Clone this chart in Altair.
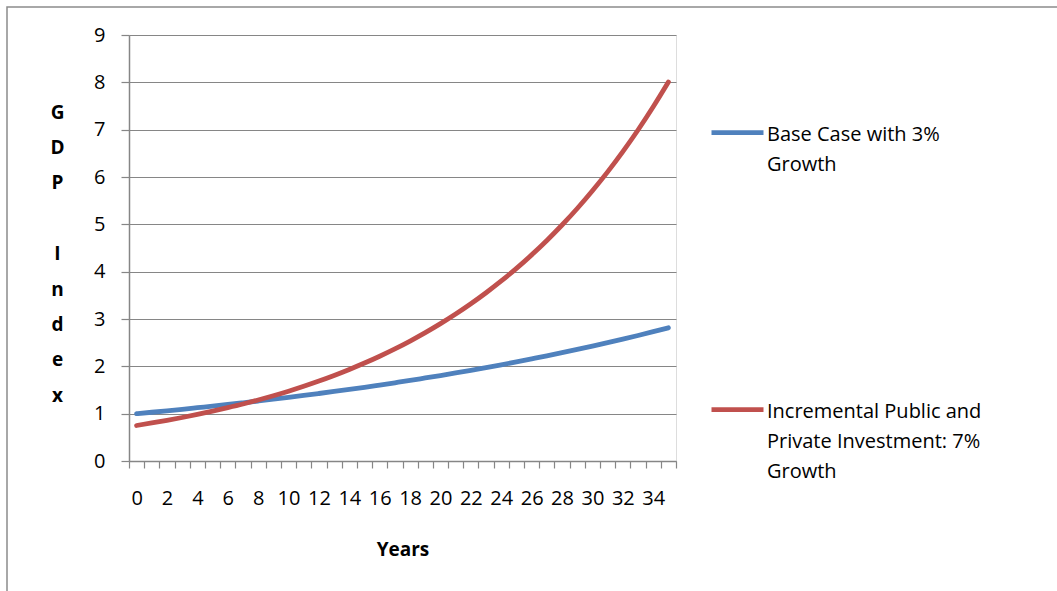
import altair as alt
import pandas as pd

years = list(range(36))
base_case = [1.000, 1.030, 1.061, 1.093, 1.126, 1.159, 1.194, 1.230, 1.267, 1.305,
             1.344, 1.384, 1.426, 1.469, 1.513, 1.558, 1.605, 1.653, 1.702, 1.754,
             1.806, 1.860, 1.916, 1.974, 2.033, 2.094, 2.157, 2.221, 2.288, 2.357,
             2.427, 2.500, 2.575, 2.652, 2.732, 2.814]
incremental = [0.750, 0.803, 0.859, 0.919, 0.983, 1.052, 1.126, 1.204, 1.289, 1.379,
               1.475, 1.579, 1.689, 1.807, 1.934, 2.069, 2.214, 2.369, 2.535, 2.712,
               2.902, 3.105, 3.322, 3.555, 3.804, 4.070, 4.355, 4.660, 4.986, 5.335,
               5.709, 6.108, 6.536, 6.993, 7.483, 8.006]
series_names = ["Base Case with 3% Growth",
                "Incremental Public and Private Investment: 7% Growth"]
series_colors = ["#4F81BD", "#C0504D"]
x_labels = list(range(0, 35, 2))
y_ticks = list(range(0, 10))

rows = []
for s, vals in zip(series_names, [base_case, incremental]):
    for yr, v in zip(years, vals):
        rows.append({"year": yr, "value": v, "series": s})
df = pd.DataFrame(rows)

tick_positions = [y - 0.5 for y in years] + [years[-1] + 0.5]

FONT = "Open Sans"
GRAY = "#868686"

xscale = alt.Scale(domain=[years[0] - 0.5, years[-1] + 0.5], nice=False, zero=False)
yscale = alt.Scale(domain=[0, 9], nice=False)

label_expr = ("datum.label == 'Base Case with 3% Growth' ? ['Base Case with 3%', 'Growth'] : "
              "['Incremental Public and', 'Private Investment: 7%', 'Growth']")

lines = alt.Chart(df).mark_line(strokeWidth=4.8, strokeCap="round", strokeJoin="round",
                                interpolate="monotone", clip=False).encode(
    x=alt.X("year:Q", scale=xscale,
            axis=alt.Axis(values=x_labels, tickSize=0, domain=False, grid=False,
                          labelPadding=27, labelFontSize=20, labelFont=FONT,
                          labelColor="#000000", labelFlush=False, orient="bottom",
                          title="Years", titleFont=FONT, titleFontSize=19,
                          titleFontWeight="bold", titleColor="#000000",
                          titleY=88, titleBaseline="middle")),
    y=alt.Y("value:Q", scale=yscale,
            axis=alt.Axis(values=y_ticks, tickSize=8, tickColor=GRAY, domainColor=GRAY,
                          domainWidth=1.5, tickWidth=1.2, grid=True, gridColor=GRAY,
                          gridWidth=1.2, labelPadding=16, labelFontSize=20, labelFont=FONT,
                          labelColor="#000000",
                          title=["G", "D", "P", "\u200b", "I", "n", "d", "e", "x"],
                          titleAngle=0, titleX=-72, titleY=77, titleAlign="center",
                          titleBaseline="middle", titleLineHeight=35.4,
                          titleFont=FONT, titleFontSize=19, titleFontWeight="bold",
                          titleColor="#000000")),
    color=alt.Color("series:N",
                    scale=alt.Scale(domain=series_names, range=series_colors),
                    legend=alt.Legend(orient="none", legendX=580, legendY=61,
                                      title=None, labelExpr=label_expr,
                                      labelFont=FONT, labelFontSize=20,
                                      labelColor="#000000", labelLimit=400,
                                      labelBaseline="top", labelOffset=1,
                                      symbolType="M-1,0.31L1,0.31",
                                      symbolSize=2704, symbolStrokeWidth=4.8,
                                      rowPadding=198)),
)

ticks = alt.Chart(df).mark_line(opacity=0).encode(
    x=alt.X("year:Q", scale=xscale,
            axis=alt.Axis(values=tick_positions, tickSize=7, labels=False, grid=False,
                          domain=True, domainColor=GRAY, domainWidth=1.5, tickColor=GRAY,
                          tickWidth=1.2, title=None, orient="bottom")),
)

border = alt.Chart(pd.DataFrame({"a": [0]})).mark_rect(
    fill=None, stroke="#8C8C8C", strokeWidth=1.5, clip=False).encode(
    x=alt.value(-122), y=alt.value(-28), x2=alt.value(940), y2=alt.value(600))

chart = alt.layer(border, lines, ticks).resolve_axis(x="independent").resolve_scale(
    x="shared").properties(
    width=547, height=426,
    autosize=alt.AutoSizeParams(type="none"),
    padding={"left": 129, "top": 35, "right": 381, "bottom": 130},
).configure_view(stroke=None).configure(
    background="white", style={"guide-label": {"lineHeight": 30}})

chart.save("out.html", embed_options={"renderer": "svg", "actions": False})
